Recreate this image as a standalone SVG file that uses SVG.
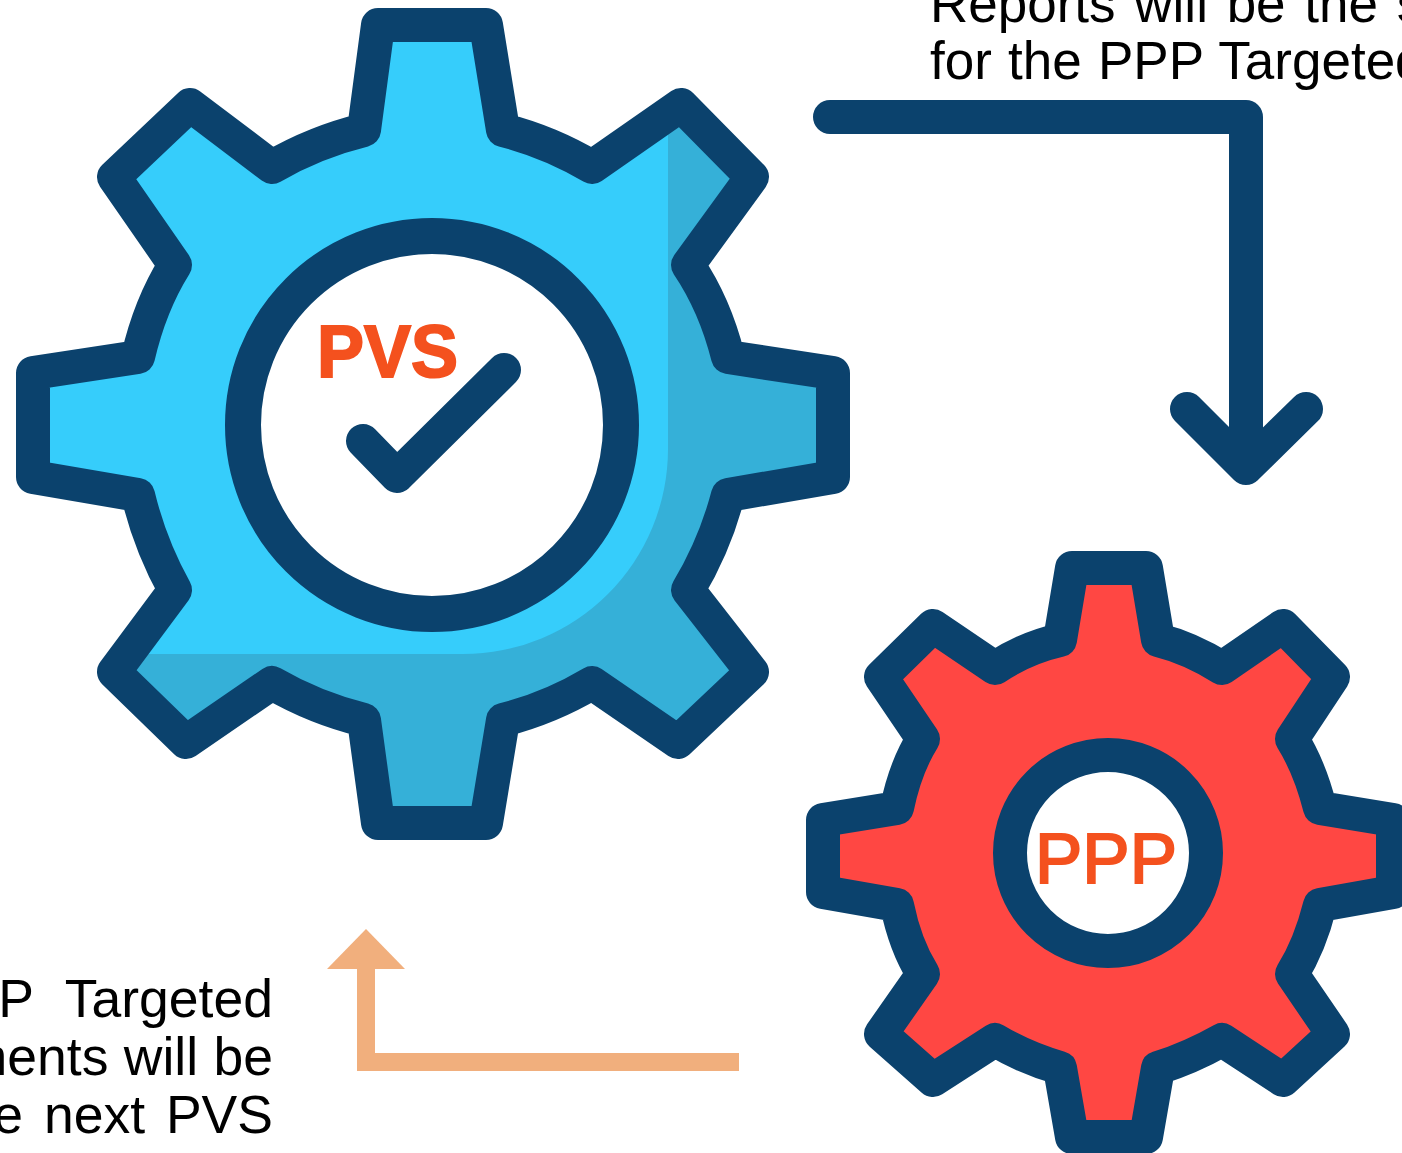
<svg xmlns="http://www.w3.org/2000/svg" width="1402" height="1153" viewBox="0 0 1402 1153">
<defs>
<style>
.o{stroke:#0b426d;stroke-width:34;stroke-linejoin:round;stroke-linecap:round;fill:none}
.t{font-family:"Liberation Sans",Arial,sans-serif;font-size:53.5px;fill:#000}
.l{font-family:"Liberation Sans",Arial,sans-serif;fill:#f4511e;stroke:#f4511e}
</style>
<path id="gear-a" d="M378 25H486L503 130Q550 142 592 167L681 105L752 177L688 265Q715 305 728 357L833 373V477L728 495Q715 545 688 590L752 672L678 742L592 683Q550 708 503 720L486 823H378L364 720Q315 708 272 683L186 742L114 672L175 590Q150 545 138 495L33 477V373L138 357Q150 305 175 265L114 177L190 105L272 167Q315 142 364 130Z"/>
<clipPath id="gear-clip"><use href="#gear-a"/></clipPath>
</defs>
<rect width="1402" height="1153" fill="#fff"/>
<g id="pvs-gear">
<use href="#gear-a" fill="#36cdfb"/>
<path fill="#35b0d8" clip-path="url(#gear-clip)" d="M668 100V449A205 205 0 0 1 463 654H100V840H860V100Z"/>
<use href="#gear-a" class="o"/>
<circle cx="432" cy="425" r="189" fill="#fff" stroke="#0b426d" stroke-width="36"/>
<path d="M363 441L397 476L504 370" class="o"/>
<text class="l" x="317" y="377" font-size="74" font-weight="700" stroke-width="2" textLength="141" lengthAdjust="spacingAndGlyphs">PVS</text>
</g>
<g id="ppp-gear">
<path class="o" style="fill:#ff4743" d="M1072 568H1146L1158 640Q1190 648 1222 668L1283 626L1333 677L1292 739Q1310 768 1320 808L1393 820L1393 892L1320 905Q1310 945 1292 974L1333 1034L1283 1080L1222 1040Q1190 1058 1158 1068L1146 1137H1072L1060 1068Q1025 1058 995 1040L933 1080L881 1034L923 974Q905 945 897 905L823 892V820L897 808Q905 768 923 739L881 677L933 626L995 668Q1025 648 1060 640Z"/>
<circle cx="1108" cy="853" r="98" fill="#fff" stroke="#0b426d" stroke-width="34"/>
<text class="l" x="1035" y="883" font-size="71" stroke-width="2" textLength="142" lengthAdjust="spacingAndGlyphs">PPP</text>
</g>
<g id="connectors">
<path d="M830 117H1246V468M1187 409L1246 468L1306 409" class="o"/>
<path d="M739 1062H366V960" fill="none" stroke="#f1af7d" stroke-width="18"/>
<path d="M327 969L366 929L405 969Z" fill="#f1af7d"/>
</g>
<g id="labels">
<text class="t" x="930" y="22" font-size="53" style="font-size:53px" word-spacing="4">Reports will be the s</text>
<text class="t" x="930" y="79" style="font-size:53px" word-spacing="1.5">for the PPP Targeted</text>
<text class="t" x="273" y="1017" text-anchor="end" word-spacing="18">P Targeted</text>
<text class="t" x="273" y="1075" text-anchor="end" word-spacing="0.5">nents will be</text>
<text class="t" x="273" y="1133" text-anchor="end" word-spacing="6">e next PVS</text>
</g>
</svg>
